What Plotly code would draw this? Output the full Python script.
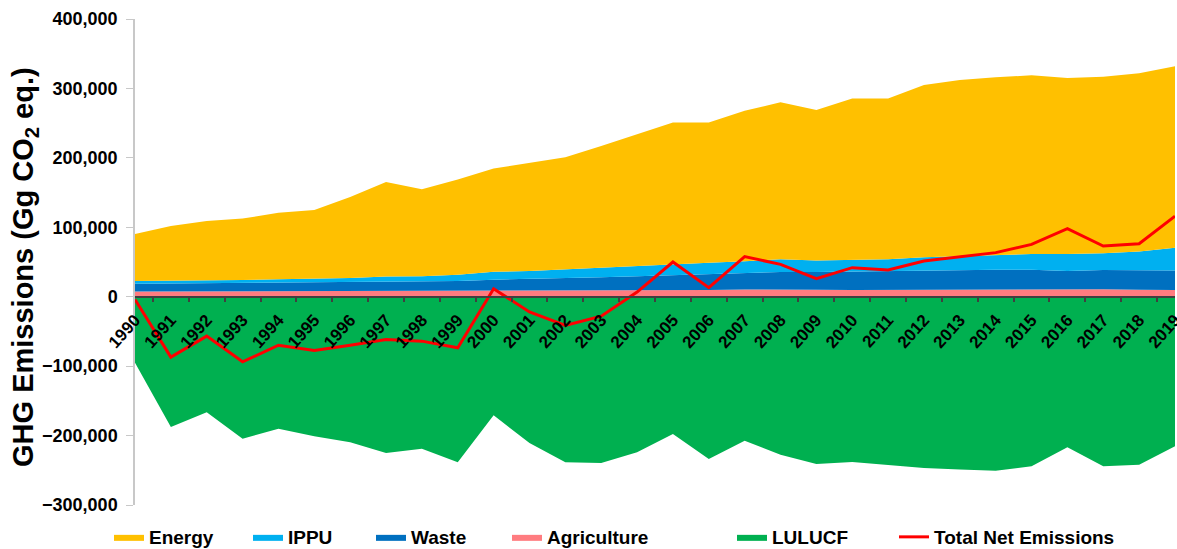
import plotly.graph_objects as go

years = list(range(1990, 2020))

energy = [67800, 79100, 86000, 88500, 96000, 99500, 116700, 136300, 125300, 137500,
          148600, 155300, 161500, 175000, 189000, 204000, 202000, 216700, 226000, 217000,
          233200, 231800, 247800, 253400, 256000, 257500, 253500, 254500, 257000, 261300]
ippu = [3800, 3600, 3500, 4100, 4600, 4700, 5700, 7100, 7300, 8800,
        11500, 11500, 12800, 13900, 15400, 15700, 16700, 16900, 18400, 16300,
        15900, 16600, 18900, 20100, 21200, 22600, 24500, 23900, 26900, 32800]
waste = [11200, 11500, 11800, 12100, 12500, 12800, 13200, 13600, 14000, 14400,
         15900, 16800, 17900, 19200, 20600, 21800, 22500, 23800, 24800, 25500,
         26700, 27200, 27600, 27900, 28100, 28100, 26500, 28000, 27900, 28100]
agriculture = [7500, 7600, 7700, 7800, 7900, 8000, 8100, 8300, 8200, 8300,
               8600, 8700, 8800, 8900, 9000, 9500, 9800, 10300, 10800, 10200,
               9800, 10000, 10500, 10600, 10700, 10800, 10500, 10600, 10200, 9600]
lulucf = [-95000, -187500, -166400, -204400, -190000, -201000, -209700, -225000, -219000, -238600,
          -170800, -210600, -238600, -239500, -224000, -197700, -233700, -207300, -227500, -241000,
          -238000, -242000, -246700, -249000, -250600, -244300, -217000, -244300, -242000, -215500]
total_net = [-4000, -87000, -56800, -93800, -69800, -77500, -70000, -61600, -64000, -73600,
             11500, -22000, -41400, -28000, 6700, 50000, 13000, 57700, 46600, 26000,
             41800, 38400, 51400, 57000, 63500, 75400, 98000, 73000, 76400, 116000]

FONT = "Liberation Sans, Arial, sans-serif"
W, H = 1177, 549

fig = go.Figure()

# positive stack, bottom to top
stack = [
    ("Agriculture", agriculture, "#FF7C80", "legend4"),
    ("Waste", waste, "#0070C0", "legend3"),
    ("IPPU", ippu, "#00B0F0", "legend2"),
    ("Energy", energy, "#FFC000", "legend"),
]
for name, vals, col, lg in stack:
    fig.add_trace(go.Scatter(
        x=years, y=vals, name=name, mode="lines",
        stackgroup="pos", fillcolor=col,
        line=dict(width=0, color=col), legend=lg
    ))

fig.add_trace(go.Scatter(
    x=years, y=lulucf, name="LULUCF", mode="lines",
    fill="tozeroy", fillcolor="#00B050",
    line=dict(width=0, color="#00B050"), legend="legend5"
))

fig.add_trace(go.Scatter(
    x=years, y=total_net, name="Total Net Emissions", mode="lines",
    line=dict(color="#FF0000", width=3), legend="legend6"
))

# legend boxes placed in container pixels so they do not push the margins
leg_font = dict(family=FONT, size=19, color="black", weight="bold")
leg_px = {"legend": 109, "legend2": 248, "legend3": 371,
          "legend4": 507, "legend5": 732, "legend6": 894}
legends = {}
for key, px in leg_px.items():
    legends[key] = dict(x=px / W, y=(H - 537) / H, xref="container", yref="container",
                        xanchor="left", yanchor="middle",
                        orientation="h", font=leg_font, bgcolor="rgba(0,0,0,0)",
                        itemwidth=30)

fig.update_layout(
    width=W, height=H,
    margin=dict(l=135, r=2, t=19, b=44),
    plot_bgcolor="white", paper_bgcolor="white",
    showlegend=True,
    **legends,
    xaxis=dict(
        range=[1990, 2019.0001], tickmode="linear", tick0=1990, dtick=1,
        tickangle=-48, ticks="", showgrid=False, zeroline=False,
        showline=True, linecolor="#404040", linewidth=1.5,
        anchor="free", position=3 / 7, automargin=False,
        ticklabeloverflow="allow", ticklabelstandoff=6,
        tickfont=dict(family=FONT, size=17, color="black", weight="bold"),
        minor=dict(tick0=1990.5, dtick=1, ticks="outside", ticklen=5,
                   tickcolor="#404040", tickwidth=1.5, showgrid=False),
    ),
    yaxis=dict(
        range=[-300000, 400000], tickmode="linear", tick0=-300000, dtick=100000,
        tickformat=",d", showgrid=False, zeroline=False, automargin=False,
        showline=True, linecolor="#C8C8C8", linewidth=1.5,
        ticks="outside", ticklen=7, tickcolor="#C8C8C8", ticklabelstandoff=5,
        tickfont=dict(family=FONT, size=18, color="black", weight="bold"),
    ),
    annotations=[dict(
        text="GHG Emissions (Gg CO<sub>2</sub> eq.)", textangle=-90,
        xref="paper", yref="paper", x=-0.1058, y=0.4897,
        xanchor="center", yanchor="middle", showarrow=False,
        font=dict(family=FONT, size=29, color="black", weight="bold"),
    )],
)

fig.write_html("out.html", config={"displayModeBar": False},
               post_script="document.body.style.margin='0';")
